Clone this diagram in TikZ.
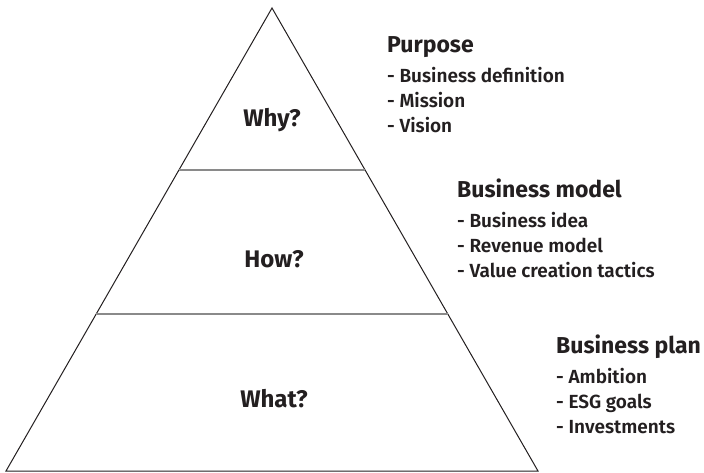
\documentclass[tikz,border=0pt]{standalone}
\usepackage{fontspec}
\setmainfont{Fira Sans}[UprightFont=* SemiBold, BoldFont=* Bold]
\usetikzlibrary{calc}
\definecolor{inkline}{HTML}{231F20}
\definecolor{splitline}{HTML}{8A8A8A}

\begin{document}
\begin{tikzpicture}[x=1pt, y=-1pt,
    question/.style={font=\fontsize{24}{28}\selectfont\bfseries, text=inkline, anchor=base, inner sep=0pt},
    head/.style={font=\fontsize{23}{27}\selectfont\bfseries, text=inkline, anchor=base west, inner sep=0pt},
    item/.style={font=\fontsize{19}{23}\selectfont, text=inkline, anchor=base west, inner sep=0pt}]
        \useasboundingbox (0,0) rectangle (704,472);
        % pyramid outline
        \coordinate (apex) at (272,8);
        \coordinate (bl) at (6,471);
        \coordinate (br) at (538,471);
        \draw[inkline, line width=1pt, line join=miter] (apex) -- (br) -- (bl) -- cycle;
        % two splits between the levels
        \draw[splitline, line width=1.3pt] ($(apex)!0.35!(bl)$) -- ($(apex)!0.35!(br)$);
        \draw[splitline, line width=1.3pt] ($(apex)!0.661!(bl)$) -- ($(apex)!0.661!(br)$);
        \node[question] (why) at (272,126) {Why?};
        \node[question] (how) at (274,267) {How?};
        \node[question] (what) at (274,407) {What?};
        % lists on the right
        \node[head] (purpose) at (387,52) {Purpose};
        \foreach \t [count=\i] in {Business definition, Mission, Vision}{\node[item] (purpose-\i) at ($(purpose.base west)+(0,5+25*\i)$) {- \t};}
        \node[head] (model) at (457,197) {Business model};
        \foreach \t [count=\i] in {Business idea, Revenue model, Value creation tactics}{\node[item] (model-\i) at ($(model.base west)+(0,5+25*\i)$) {- \t};}
        \node[head] (plan) at (556,353) {Business plan};
        \foreach \t [count=\i] in {Ambition, ESG goals, Investments}{\node[item] (plan-\i) at ($(plan.base west)+(0,5+25*\i)$) {- \t};}
      \end{tikzpicture}
\end{document}
